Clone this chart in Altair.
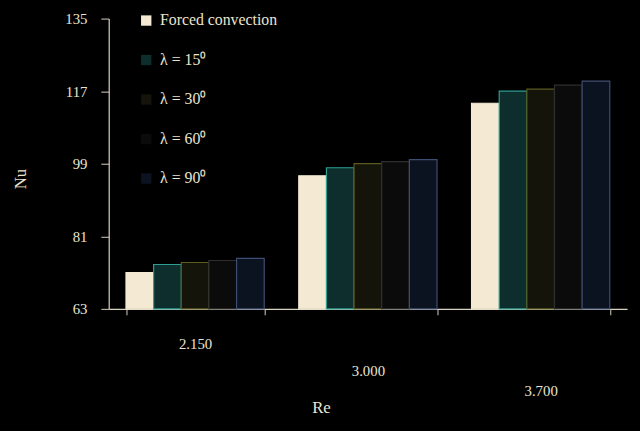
import altair as alt
import pandas as pd

re_labels = ["2.150", "3.000", "3.700"]
series = ["Forced convection", "λ = 15⁰", "λ = 30⁰", "λ = 60⁰", "λ = 90⁰"]
forced = [72, 96, 114]
lam15 = [74, 98, 117]
lam30 = [74.5, 99, 117.5]
lam60 = [75, 99.5, 118.5]
lam90 = [75.5, 100, 119.5]
y_ticks = [63, 81, 99, 117, 135]
base_nu = 63

fills = ["#f4ead3", "#0d2e2c", "#14140a", "#0b0b0b", "#0c1320"]
strokes = ["#f4ead3", "#2c9e92", "#5a5a22", "#2e2e2e", "#3e4e72"]

rows = []
for s, vals in zip(series, [forced, lam15, lam30, lam60, lam90]):
    for r, v in zip(re_labels, vals):
        rows.append({"Re": r, "Series": s, "Nu": v})
df = pd.DataFrame(rows)

FONT = "Liberation Serif"
TXT = "#ebe5cf"

label_pad = {
    "condition": [
        {"test": "datum.value == '2.150'", "value": 22},
        {"test": "datum.value == '3.000'", "value": 50},
    ],
    "value": 70,
}

chart = (
    alt.Chart(df)
    .mark_bar(strokeWidth=1.2)
    .encode(
        x=alt.X(
            "Re:N",
            sort=re_labels,
            scale=alt.Scale(paddingInner=0.2, paddingOuter=0.1),
            axis=alt.Axis(
                title="Re",
                labelAngle=0,
                labelPadding=label_pad,
                tickBand="extent",
                tickSize=6,
                titleX=215,
                titleY=92,
                titleBaseline="top",
            ),
        ),
        xOffset=alt.XOffset("Series:N", sort=series),
        y=alt.Y(
            "Nu:Q",
            scale=alt.Scale(domain=[63, 135], nice=False, zero=False),
            axis=alt.Axis(
                title="Nu",
                values=y_ticks,
                grid=False,
                tickSize=8,
                labelPadding=14,
                titleX=-80,
                titleY=162,
            ),
        ),
        y2=alt.datum(base_nu),
        fill=alt.Fill(
            "Series:N",
            sort=series,
            scale=alt.Scale(domain=series, range=fills),
            legend=alt.Legend(
                title=None,
                orient="none",
                legendX=30,
                legendY=-6,
                symbolType="square",
                symbolSize=110,
                symbolStrokeWidth=0,
                labelFontSize=16,
                labelFont=FONT,
                labelColor=TXT,
                labelOffset=6,
                rowPadding=24,
            ),
        ),
        stroke=alt.Stroke(
            "Series:N",
            sort=series,
            scale=alt.Scale(domain=series, range=strokes),
            legend=None,
        ),
    )
    .properties(
        width=525,
        height=294,
        background="#000000",
        padding={"left": 102, "top": 8, "right": 5, "bottom": 121},
        autosize=alt.AutoSizeParams(type="none"),
    )
    .configure_view(stroke=None)
    .configure_axis(
        domainColor="#d8d2c0",
        tickColor="#d8d2c0",
        labelColor=TXT,
        titleColor=TXT,
        labelFont=FONT,
        titleFont=FONT,
        labelFontSize=15,
        titleFontSize=17,
        titleFontWeight="normal",
        domainWidth=1.2,
    )
)

chart.save("out.html", embed_options={"renderer": "svg", "actions": False})

with open("out.html", "r", encoding="utf-8") as f:
    html = f.read()
html = html.replace("<head>", "<head><style>html,body{background:#000;}</style>", 1)
with open("out.html", "w", encoding="utf-8") as f:
    f.write(html)
